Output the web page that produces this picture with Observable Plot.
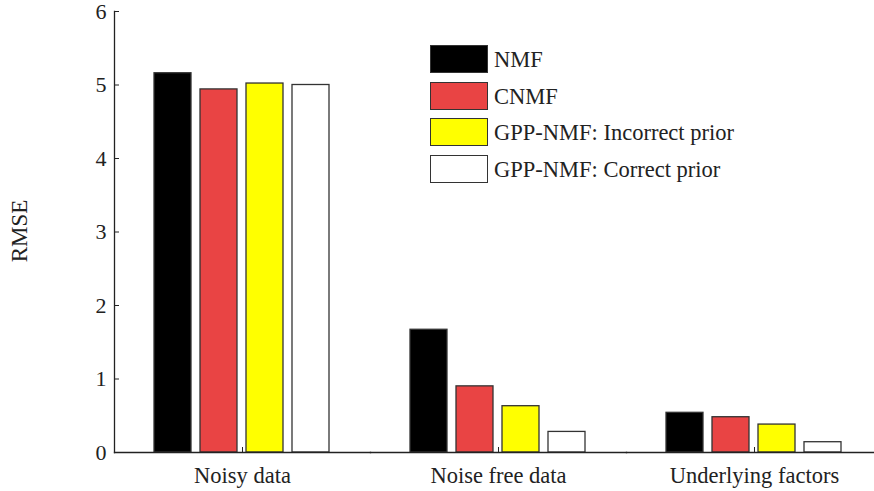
<!DOCTYPE html>
<html>
<head>
<meta charset="utf-8">
<script src="https://cdn.jsdelivr.net/npm/d3@7"></script>
<script src="https://cdn.jsdelivr.net/npm/@observablehq/plot@0.6"></script>
<style>
  html, body { margin: 0; padding: 0; background: #fff; }
  #wrap { position: relative; width: 874px; height: 491px; font-family: "Liberation Serif", "Times New Roman", serif; color: #222; }
  #legend { position: absolute; left: 430px; top: 45px; }
  .row { display: flex; align-items: center; height: 36.5px; }
  .sw { width: 56px; height: 26px; border: 1.3px solid #333; box-sizing: content-box; margin-right: 6px; margin-top: -8px; }
  .lab { font-size: 22.5px; margin-top: -6px; }
</style>
</head>
<body>
<div id="wrap"><div id="legend"></div></div>
<script>
const groups = ["Noisy data", "Noise free data", "Underlying factors"];
const methods = ["NMF", "CNMF", "GPP-NMF: Incorrect prior", "GPP-NMF: Correct prior"];
const colors = ["#000000", "#e94444", "#ffff00", "#ffffff"];
const nmf = [5.16, 1.67, 0.54];
const cnmf = [4.94, 0.90, 0.48];
const gppIncorrect = [5.02, 0.63, 0.38];
const gppCorrect = [5.00, 0.28, 0.14];
const yTicks = [0, 1, 2, 3, 4, 5, 6];
const yLabel = "RMSE";

const series = [nmf, cnmf, gppIncorrect, gppCorrect];
const data = groups.flatMap((g, i) => methods.map((m, j) => ({group: g, method: m, value: series[j][i]})));

const chart = Plot.plot({
  width: 874,
  height: 491,
  marginTop: 11,
  marginBottom: 39,
  marginLeft: 113,
  marginRight: 0,
  style: {fontFamily: "Liberation Serif, Times New Roman, serif", fontSize: "22px", color: "#222", background: "#fff"},
  fx: {domain: groups, range: [113, 882.5], padding: 0, label: null},
  x: {domain: methods, axis: null, paddingInner: 0.19, paddingOuter: 0.83},
  y: {domain: [0, 6]},
  color: {domain: methods, range: colors},
  marks: [
    Plot.barY(data, {fx: "group", x: "method", y: "value", fill: "method", stroke: "#333", strokeWidth: 1.3}),
    Plot.frame({anchor: "bottom", stroke: "#222", strokeWidth: 1.3}),
    Plot.frame({anchor: "left", facetAnchor: "left", stroke: "#222", strokeWidth: 1.3}),
    Plot.axisY({ticks: yTicks, tickFormat: "d", tickSize: -5, tickPadding: 13, fontSize: 22, label: null, stroke: "#222"}),
    Plot.text([yLabel], {text: d => d, frameAnchor: "left", textAnchor: "middle", dx: -95, dy: -1, rotate: -90, fontSize: 23, fill: "#222", facetAnchor: "left"}),
    Plot.axisFx({anchor: "bottom", tickSize: -5, tickPadding: 20, fontSize: 22.5, label: null, stroke: "#222"})
  ]
});
document.getElementById("wrap").prepend(chart);

const legend = document.getElementById("legend");
methods.forEach((m, j) => {
  const row = document.createElement("div");
  row.className = "row";
  const sw = document.createElement("div");
  sw.className = "sw";
  sw.style.background = colors[j];
  const lab = document.createElement("div");
  lab.className = "lab";
  lab.textContent = m;
  row.append(sw, lab);
  legend.append(row);
});
</script>
</body>
</html>
